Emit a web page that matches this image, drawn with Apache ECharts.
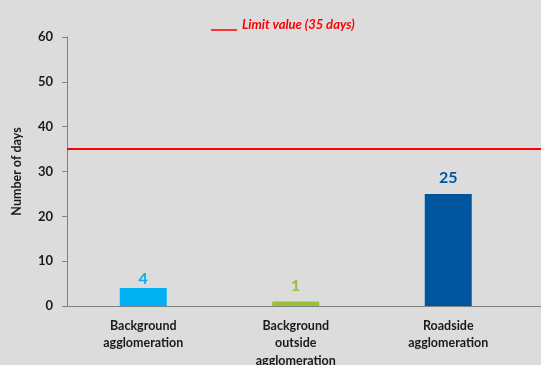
<!DOCTYPE html>
<html>
<head>
<meta charset="utf-8">
<script src="https://cdn.jsdelivr.net/npm/echarts@6/dist/echarts.min.js"></script>
<style>
  html, body { margin: 0; padding: 0; background: #dcdcdc; }
  #chart { width: 541px; height: 365px; }
</style>
</head>
<body>
<div id="chart"></div>
<script>
// Exceedance days per station type
const categories = ['Background\nagglomeration', 'Background\noutside\nagglomeration', 'Roadside\nagglomeration', ''];
const days = [4, 1, 25, '-'];
const limitValue = 35;
const limitName = 'Limit value (35 days)';
const yTicks = [0, 10, 20, 30, 40, 50, 60];

// per-bar styling
const barColors = ['#00b0f0', '#9bc03b', '#00559f'];
const labelGaps = [1, 8, 8];
const fontFamily = 'Lato, "Open Sans", sans-serif';

// legend key: a short rule sitting at the text baseline
const legendKey = 'path://M0,0L0.01,0L0.01,0.01L0,0.01ZM0,11L26,11L26,12.6L0,12.6Z';

const chart = echarts.init(document.getElementById('chart'), null, { renderer: 'canvas' });

const barData = days.map(function (v, i) {
  return { value: v, label: { distance: labelGaps[i] !== undefined ? labelGaps[i] : 4 } };
});

chart.setOption({
  backgroundColor: '#dcdcdc',
  animation: false,
  textStyle: { fontFamily: fontFamily },
  legend: {
    data: [{ name: limitName, icon: legendKey }],
    top: 13,
    left: 206,
    itemWidth: 26,
    itemHeight: 12.6,
    itemGap: 6,
    textStyle: { color: '#ff0000', fontStyle: 'italic', fontWeight: 'bold', fontSize: 13, fontFamily: fontFamily }
  },
  grid: { left: 67, top: 37, width: 610, bottom: 59, containLabel: false, outerBoundsMode: 'none' },
  xAxis: {
    type: 'category',
    data: categories,
    axisLine: { lineStyle: { color: '#808080', width: 1 } },
    axisTick: { length: 5, lineStyle: { color: '#808080' }, interval: function (i) { return i < 3; } },
    axisLabel: {
      color: '#1a1a1a', fontWeight: 'bold', fontSize: 12.5, lineHeight: 17.5, margin: 11,
      interval: 0, fontFamily: fontFamily
    }
  },
  yAxis: {
    type: 'value',
    min: yTicks[0],
    max: yTicks[yTicks.length - 1],
    interval: 10,
    name: 'Number of days',
    nameLocation: 'middle',
    nameGap: 44,
    nameTextStyle: { color: '#1a1a1a', fontWeight: 'bold', fontSize: 12.5, fontFamily: fontFamily },
    axisLine: { show: true, lineStyle: { color: '#808080', width: 1 } },
    axisTick: { show: true, length: 5, lineStyle: { color: '#808080' } },
    axisLabel: { color: '#1a1a1a', fontWeight: 'bold', fontSize: 13, margin: 14, fontFamily: fontFamily },
    splitLine: { show: false }
  },
  series: [
    {
      type: 'bar',
      name: 'Days',
      data: barData,
      barWidth: 47,
      itemStyle: { color: function (p) { return barColors[p.dataIndex]; } },
      label: {
        show: true,
        position: 'top',
        fontSize: 16,
        fontWeight: 'bold',
        fontFamily: fontFamily,
        color: 'inherit'
      }
    },
    {
      type: 'line',
      name: limitName,
      data: [],
      itemStyle: { color: '#ff0000' },
      lineStyle: { color: '#ff0000', width: 2 },
      markLine: {
        silent: true,
        symbol: ['none', 'none'],
        label: { show: false },
        lineStyle: { color: '#ff0000', width: 2, type: 'solid' },
        data: [{ yAxis: limitValue }]
      }
    }
  ]
});
</script>
</body>
</html>
